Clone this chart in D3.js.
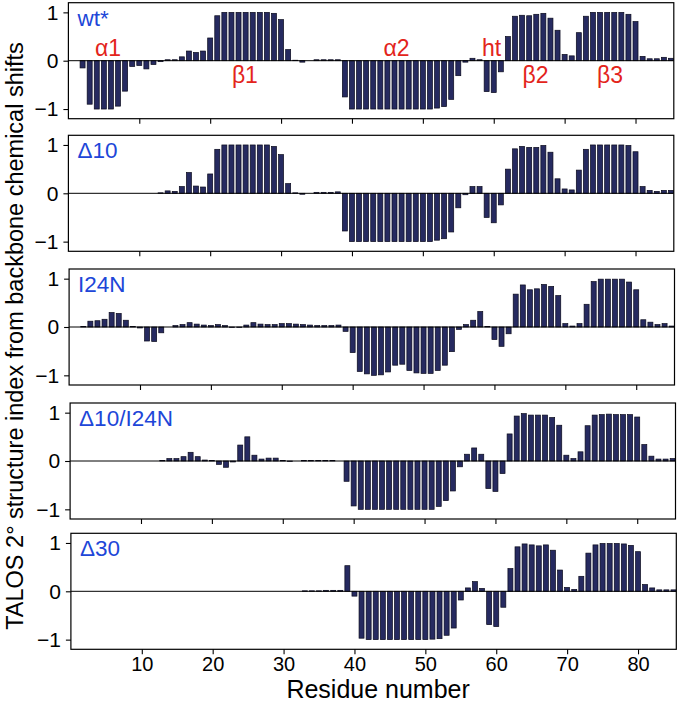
<!DOCTYPE html>
<html><head><meta charset="utf-8">
<script src="https://cdn.jsdelivr.net/npm/d3@7"></script>
<style>
body{margin:0;background:#fff;}
svg{display:block;font-family:"Liberation Sans",Arial,Helvetica,sans-serif;}
</style>
</head><body>
<svg id="c" width="677" height="704"></svg>
<script>
// ---------------- data ----------------
const residues = d3.range(1, 86);
const panelNames = ["wt*", "Δ10", "I24N", "Δ10/I24N", "Δ30"];
const xTicks = [10, 20, 30, 40, 50, 60, 70, 80];
const yTicks = [-1, 0, 1];

const wt = [null,-0.15,-0.9,-1.0,-1.0,-1.0,-0.94,-0.63,-0.12,-0.1,
  -0.17,-0.08,-0.02,0.02,0.02,0.08,0.2,0.17,0.2,0.47,
  0.93,1.0,1.0,1.0,1.0,1.0,1.0,1.0,0.98,0.85,
  0.23,0.01,-0.03,null,0.02,0.02,0.02,0.02,-0.75,-1.0,
  -1.0,-1.0,-1.0,-1.0,-1.0,-1.0,-1.0,-1.0,-1.0,-1.0,
  -1.0,-0.98,-0.95,-0.8,-0.31,-0.03,0.05,0.02,-0.64,-0.66,
  -0.23,0.5,0.92,0.94,0.93,0.96,0.98,0.88,0.63,0.13,
  0.1,0.58,0.92,1.0,1.0,1.0,1.0,1.0,0.96,0.81,
  0.09,0.04,0.04,0.07,0.05];
const d10 = [null,null,null,null,null,null,null,null,null,null,
  null,null,0.01,0.05,0.04,0.14,0.43,0.15,0.13,0.4,
  0.91,1.0,1.0,1.0,1.0,1.0,1.0,1.0,0.97,0.8,
  0.2,0.01,-0.02,null,0.02,0.02,0.02,0.03,-0.78,-1.0,
  -1.0,-1.0,-1.0,-1.0,-1.0,-1.0,-1.0,-1.0,-1.0,-1.0,
  -1.0,-0.97,-0.94,-0.8,-0.3,-0.03,0.14,0.14,-0.5,-0.61,
  -0.24,0.5,0.92,0.97,0.95,0.95,0.99,0.85,0.3,0.09,
  0.07,0.48,0.91,1.0,1.0,1.0,1.0,1.0,0.99,0.86,
  0.14,0.06,0.04,0.06,0.06];
const i24n = [null,0.01,0.12,0.13,0.16,0.3,0.28,0.14,0.01,-0.02,
  -0.29,-0.3,-0.12,null,0.03,0.05,0.09,0.06,0.04,0.03,
  0.05,0.03,-0.01,-0.01,0.04,0.09,0.06,0.05,0.05,0.07,
  0.07,0.06,0.05,0.04,0.03,0.03,0.03,0.04,-0.09,-0.53,
  -0.92,-0.97,-1.0,-0.99,-0.93,-0.79,-0.77,-0.9,-0.95,-0.96,
  -0.96,-0.9,-0.79,-0.51,-0.05,0.05,0.14,0.32,0.01,-0.26,
  -0.4,-0.14,0.68,0.87,0.77,0.79,0.88,0.84,0.65,0.07,
  0.02,0.07,0.47,0.94,0.99,0.99,0.99,0.99,0.93,0.77,
  0.15,0.1,0.05,0.07,0.02];
const d10i24n = [null,null,null,null,null,null,null,null,null,null,
  null,null,0.01,0.05,0.05,0.09,0.18,0.09,0.02,0.01,
  -0.07,-0.13,-0.02,0.33,0.5,0.12,0.04,0.06,0.06,0.01,
  -0.01,null,0.01,0.01,0.01,0.01,0.01,null,-0.42,-0.93,
  -1.0,-1.0,-1.0,-1.0,-1.0,-1.0,-1.0,-1.0,-1.0,-1.0,
  -1.0,-0.94,-0.82,-0.62,-0.12,0.14,0.27,0.14,-0.57,-0.63,
  -0.26,0.56,0.93,0.98,0.95,0.95,0.95,0.9,0.74,0.12,
  0.05,0.19,0.73,0.95,0.96,0.97,0.96,0.96,0.96,0.91,
  0.34,0.1,0.04,0.04,0.05];
const d30 = [null,null,null,null,null,null,null,null,null,null,
  null,null,null,null,null,null,null,null,null,null,
  null,null,null,null,null,null,null,null,null,null,
  null,null,0.01,0.01,0.01,0.02,0.02,0.02,0.53,-0.1,
  -0.97,-1.0,-1.0,-1.0,-1.0,-1.0,-1.0,-1.0,-1.0,-1.0,
  -0.99,-0.98,-0.91,-0.76,-0.18,0.07,0.2,0.06,-0.69,-0.73,
  -0.33,0.47,0.92,0.98,0.96,0.94,0.96,0.85,0.44,0.08,
  0.04,0.31,0.79,0.96,0.99,0.99,0.99,0.98,0.95,0.82,
  0.14,0.07,0.03,0.03,0.03];
const series = [wt, d10, i24n, d10i24n, d30];

// secondary-structure annotations (wt* panel)
const ssLabels = ["α1", "β1", "α2", "ht", "β2", "β3"];
const ssResidue = [5.6, 24.9, 46.3, 59.7, 65.9, 76.4];
const ssBelow = [false, true, false, false, true, true];

// ---------------- layout ----------------
const svg = d3.select("#c");
const FONT = '"Liberation Sans",Arial,Helvetica,sans-serif';
const panelTop = [2.7, 135.3, 269, 403, 533.3];
const panelDx = [0, 0, 0.7, 1.7, 2.5];
const panelH = 116;
const x = d3.scaleLinear().domain([0, 85.4]).range([68.4, 673.8]);
const y = d3.scaleLinear().domain([-1.2, 1.2]).range([panelH, 0]);
const barW = 5;

series.forEach((vals, p) => {
  const g = svg.append("g").attr("transform", `translate(${panelDx[p]},${panelTop[p]})`);
  const data = residues.map((r, i) => ({r, v: vals[i]})).filter(d => d.v !== null);

  g.selectAll("rect.bar").data(data).join("rect").attr("class", "bar")
    .attr("x", d => x(d.r) - barW / 2).attr("width", barW)
    .attr("y", d => y(Math.max(0, d.v)))
    .attr("height", d => Math.abs(y(d.v) - y(0)))
    .attr("fill", "#262a60").attr("stroke", "#0a0a1c").attr("stroke-width", 0.7);

  g.append("line").attr("x1", x.range()[0]).attr("x2", x.range()[1])
    .attr("y1", y(0)).attr("y2", y(0)).attr("stroke", "#000").attr("stroke-width", 1);

  const xa = g.append("g").attr("transform", `translate(0,${panelH})`)
    .call(d3.axisBottom(x).tickValues(xTicks).tickSize(5).tickPadding(3)
      .tickFormat(p === series.length - 1 ? d3.format("d") : () => ""));
  xa.select(".domain").remove();
  xa.attr("font-family", FONT).attr("font-size", 20);
  xa.selectAll("line").attr("stroke-width", 1.1);

  const ya = g.append("g").attr("transform", `translate(${x.range()[0]},0)`)
    .call(d3.axisLeft(y).tickValues(yTicks).tickSize(5).tickPadding(5)
      .tickFormat(d => d < 0 ? "−" + Math.abs(d) : String(d)));
  ya.select(".domain").remove();
  ya.attr("font-family", FONT).attr("font-size", 21);
  ya.selectAll("line").attr("stroke-width", 1.1);

  g.append("rect").attr("x", x.range()[0]).attr("y", 0)
    .attr("width", x.range()[1] - x.range()[0]).attr("height", panelH)
    .attr("fill", "none").attr("stroke", "#000").attr("stroke-width", 1.2);

  g.append("text").attr("x", x.range()[0] + 9).attr("y", 23)
    .attr("font-size", 22.5).attr("fill", "#2046d8").text(panelNames[p]);

  if (p === 0) {
    g.selectAll("text.ss").data(ssLabels).join("text").attr("class", "ss")
      .attr("x", (d, i) => x(ssResidue[i]))
      .attr("y", (d, i) => ssBelow[i] ? y(0) + 22 : y(0) - 4.7)
      .attr("text-anchor", "middle").attr("font-size", 23).attr("fill", "#e3241b")
      .text(d => d);
  }
});

svg.append("text").attr("x", (x.range()[0] + x.range()[1]) / 2 + 7).attr("y", 698)
  .attr("text-anchor", "middle").attr("font-size", 25).text("Residue number");

svg.append("text").attr("transform", "translate(22.5,336) rotate(-90)")
  .attr("text-anchor", "middle").attr("font-size", 23.5)
  .text("TALOS 2° structure index from backbone chemical shifts");
</script>
</body></html>
